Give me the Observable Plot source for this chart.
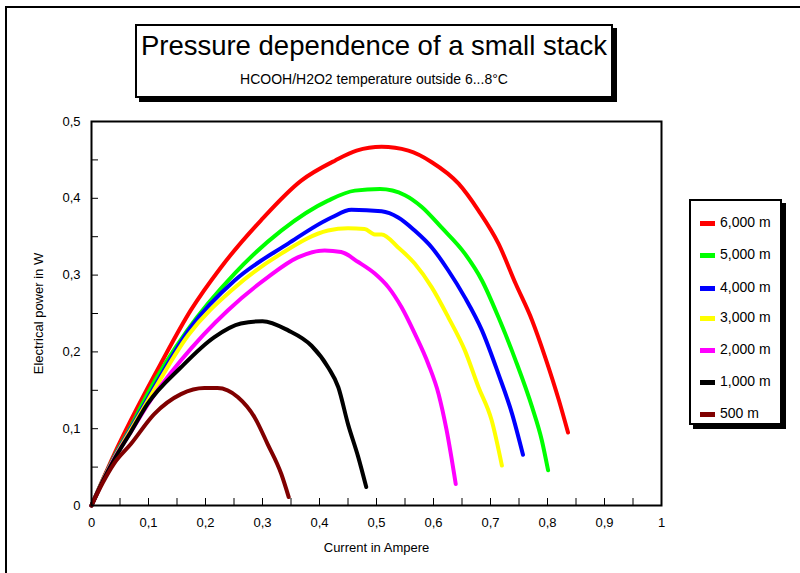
<!DOCTYPE html>
<html>
<head>
<meta charset="utf-8">
<script src="https://cdn.jsdelivr.net/npm/d3@7"></script>
<script src="https://cdn.jsdelivr.net/npm/@observablehq/plot@0.6"></script>
<style>
  html, body { margin: 0; padding: 0; background: #fff; }
  body { font-family: "Liberation Sans", Arial, sans-serif; }
  #wrap { position: relative; width: 800px; height: 573px; overflow: hidden; background: #fff; }
  #outer { position: absolute; left: 5px; top: 6px; right: -10px; bottom: -10px; border-top: 2px solid #000; border-left: 2px solid #000; }
  #titlebox { position: absolute; left: 135px; top: 24px; width: 474px; height: 70px; border: 2px solid #000; box-shadow: 4px 4px 0 #000; background: #fff; text-align: center; }
  #title { font-size: 27.5px; line-height: 28px; margin-top: 6px; color: #000; white-space: nowrap; }
  #subtitle { font-size: 14px; line-height: 14px; margin-top: 12px; color: #000; white-space: nowrap; }
  #legend { position: absolute; left: 689px; top: 199px; width: 89px; height: 222px; border: 2px solid #000; box-shadow: 4px 4px 0 #000; background: #fff; }
  .item { position: absolute; left: 0; height: 16px; font-size: 14px; line-height: 16px; }
  .sw { position: absolute; left: 9px; top: 7px; width: 15px; height: 5px; }
  .lab { position: absolute; left: 29px; top: 0; white-space: nowrap; }
  #chart { position: absolute; left: 0; top: 0; }
</style>
</head>
<body>
<div id="wrap">
  <div id="chart"></div>
  <div id="outer"></div>
  <div id="titlebox">
    <div id="title">Pressure dependence of a small stack</div>
    <div id="subtitle">HCOOH/H2O2 temperature outside 6...8°C</div>
  </div>
  <div id="legend"></div>
</div>
<script>
// ---- data ----
const seriesNames = ["6,000 m", "5,000 m", "4,000 m", "3,000 m", "2,000 m", "1,000 m", "500 m"];
const seriesColors = ["#ff0000", "#00ff00", "#0000ff", "#ffff00", "#ff00ff", "#000000", "#800000"];

const current6000 = [0, 0.02, 0.04, 0.069, 0.121, 0.174, 0.227, 0.297, 0.368, 0.427, 0.465, 0.509, 0.556, 0.597, 0.644, 0.679, 0.714, 0.744, 0.773, 0.796, 0.820, 0.836];
const power6000   = [0, 0.034, 0.067, 0.111, 0.184, 0.254, 0.310, 0.371, 0.423, 0.449, 0.462, 0.467, 0.462, 0.447, 0.419, 0.384, 0.341, 0.289, 0.241, 0.193, 0.137, 0.095];

const current5000 = [0, 0.02, 0.04, 0.07, 0.098, 0.168, 0.251, 0.333, 0.415, 0.462, 0.506, 0.550, 0.579, 0.614, 0.655, 0.685, 0.714, 0.744, 0.773, 0.790, 0.801];
const power5000   = [0, 0.033, 0.064, 0.104, 0.145, 0.228, 0.302, 0.358, 0.397, 0.410, 0.412, 0.404, 0.389, 0.362, 0.328, 0.293, 0.245, 0.189, 0.128, 0.085, 0.046];

const current4000 = [0, 0.02, 0.04, 0.07, 0.10, 0.174, 0.251, 0.345, 0.421, 0.456, 0.509, 0.538, 0.567, 0.597, 0.626, 0.655, 0.685, 0.714, 0.738, 0.757];
const power4000   = [0, 0.033, 0.063, 0.102, 0.141, 0.232, 0.293, 0.341, 0.375, 0.385, 0.383, 0.375, 0.358, 0.336, 0.306, 0.271, 0.228, 0.171, 0.119, 0.066];

const current3000 = [0, 0.02, 0.04, 0.07, 0.10, 0.17, 0.25, 0.333, 0.415, 0.450, 0.479, 0.497, 0.509, 0.538, 0.567, 0.597, 0.626, 0.655, 0.679, 0.702, 0.720];
const power3000   = [0, 0.033, 0.062, 0.100, 0.138, 0.222, 0.283, 0.328, 0.358, 0.361, 0.360, 0.353, 0.353, 0.336, 0.315, 0.284, 0.245, 0.202, 0.154, 0.111, 0.052];

const current2000 = [0, 0.02, 0.04, 0.07, 0.10, 0.157, 0.239, 0.309, 0.362, 0.409, 0.438, 0.468, 0.497, 0.521, 0.544, 0.567, 0.591, 0.609, 0.623, 0.639];
const power2000   = [0, 0.032, 0.061, 0.097, 0.133, 0.189, 0.254, 0.297, 0.323, 0.332, 0.330, 0.317, 0.302, 0.284, 0.258, 0.224, 0.184, 0.145, 0.098, 0.028];

const current1000 = [0, 0.02, 0.04, 0.07, 0.098, 0.157, 0.215, 0.262, 0.300, 0.345, 0.386, 0.415, 0.433, 0.450, 0.468, 0.482];
const power1000   = [0, 0.032, 0.060, 0.097, 0.132, 0.180, 0.219, 0.237, 0.240, 0.228, 0.208, 0.180, 0.154, 0.106, 0.063, 0.024];

const current500 = [0, 0.02, 0.039, 0.069, 0.110, 0.157, 0.198, 0.221, 0.257, 0.286, 0.309, 0.333, 0.346];
const power500   = [0, 0.030, 0.054, 0.080, 0.119, 0.145, 0.153, 0.153, 0.141, 0.115, 0.080, 0.041, 0.011];

const xTicks = [0, 0.1, 0.2, 0.3, 0.4, 0.5, 0.6, 0.7, 0.8, 0.9, 1];
const yTicks = [0, 0.1, 0.2, 0.3, 0.4, 0.5];
const xMinorTicks = [0.05, 0.1, 0.15, 0.2, 0.25, 0.3, 0.35, 0.4, 0.45, 0.5, 0.55, 0.6, 0.65, 0.7, 0.75, 0.8, 0.85, 0.9, 0.95];
const yMinorTicks = [0.05, 0.1, 0.15, 0.2, 0.25, 0.3, 0.35, 0.4, 0.45];

// ---- build table ----
const currents = [current6000, current5000, current4000, current3000, current2000, current1000, current500];
const powers = [power6000, power5000, power4000, power3000, power2000, power1000, power500];
const rows = [];
seriesNames.forEach((name, i) => {
  currents[i].forEach((c, j) => rows.push({series: name, current: c, power: powers[i][j]}));
});

const fmt = d => String(d).replace(".", ",");

const chart = Plot.plot({
  width: 800,
  height: 573,
  marginLeft: 91,
  marginRight: 139,
  marginTop: 121,
  marginBottom: 68,
  style: {fontFamily: "'Liberation Sans', Arial, sans-serif", fontSize: "13px", background: "transparent", color: "#000"},
  x: {domain: [0, 1]},
  y: {domain: [0, 0.5]},
  color: {domain: seriesNames, range: seriesColors},
  marks: [
    Plot.line(rows, {x: "current", y: "power", z: "series", stroke: "series", strokeWidth: 4, curve: "monotone-x", strokeLinejoin: "round"}),
    Plot.axisX(xMinorTicks, {tickSize: 7, dy: -7, text: null, stroke: "#000", label: null, strokeOpacity: 1}),
    Plot.axisY(yMinorTicks, {tickSize: 7, dx: 7, text: null, stroke: "#000", label: null, strokeOpacity: 1}),
    Plot.axisX(xTicks, {tickSize: 0, tickPadding: 12, tickFormat: fmt, label: "Current in Ampere", labelAnchor: "center", labelOffset: 46, labelArrow: "none", fontSize: 13}),
    Plot.axisY(yTicks, {tickSize: 0, tickPadding: 11, tickFormat: fmt, label: "Electrical power in W", labelAnchor: "center", labelOffset: 58, labelArrow: "none", fontSize: 13}),
    Plot.frame({stroke: "#000", strokeWidth: 2})
  ]
});
document.getElementById("chart").appendChild(chart);

// ---- legend ----
const legend = document.getElementById("legend");
const rowY = [13, 45, 78, 108, 140, 172, 204];
seriesNames.forEach((name, i) => {
  const it = document.createElement("div");
  it.className = "item";
  it.style.top = rowY[i] + "px";
  const sw = document.createElement("div");
  sw.className = "sw";
  sw.style.background = seriesColors[i];
  const lab = document.createElement("div");
  lab.className = "lab";
  lab.textContent = name;
  it.appendChild(sw); it.appendChild(lab);
  legend.appendChild(it);
});
</script>
</body>
</html>
